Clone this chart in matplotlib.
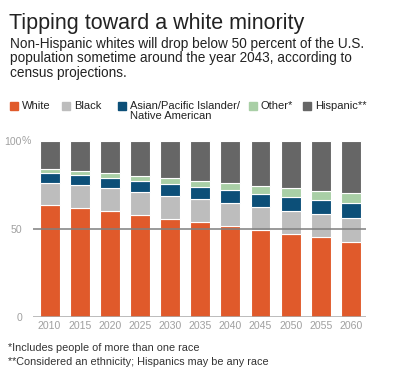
"""Tipping toward a white minority: projected U.S. population shares by
race/ethnicity, 2010-2060, as 100% stacked bars."""
import numpy as np
import matplotlib
matplotlib.use("Agg")
import matplotlib.pyplot as plt

plt.rcParams["font.family"] = ["Liberation Sans", "DejaVu Sans"]

YEARS = ["2010", "2015", "2020", "2025", "2030", "2035",
         "2040", "2045", "2050", "2055", "2060"]
WHITE = [63.8, 62.1, 60.2, 58.0, 55.9, 53.8, 51.7, 49.4, 47.2, 45.3, 42.8]
BLACK = [12.6, 12.9, 12.9, 12.8, 13.0, 13.1, 12.9, 13.3, 13.2, 13.2, 13.6]
ASIAN = [5.2, 5.7, 5.9, 6.5, 6.9, 7.2, 7.4, 7.4, 8.0, 8.0, 8.2]
OTHER = [2.7, 2.4, 2.6, 3.0, 3.0, 3.4, 4.0, 4.5, 4.7, 5.1, 5.7]
HISPANIC = [15.7, 16.9, 18.4, 19.7, 21.2, 22.5, 24.0, 25.4, 26.9, 28.4, 29.7]

SERIES = [("White", WHITE, "#e05a2b"),
          ("Black", BLACK, "#bdbdbd"),
          ("Asian/Pacific Islander/\nNative American", ASIAN, "#0c4f78"),
          ("Other*", OTHER, "#a9cfa6"),
          ("Hispanic**", HISPANIC, "#666666")]

fig = plt.figure(figsize=(4.0, 3.73), dpi=100)
ax = fig.add_axes([0.0825, 0.150, 0.8325, 0.472])

x = np.arange(len(YEARS))
bottom = np.zeros(len(YEARS))
for name, vals, col in SERIES:
    vals = np.array(vals)
    ax.bar(x, vals, 0.66, bottom=bottom, color=col, edgecolor="white", linewidth=0.8)
    bottom += vals

ax.set_xlim(-0.55, len(YEARS) - 0.5)
ax.set_ylim(0, 100)
ax.axhline(50, color="#7f7f7f", lw=1.1, zorder=5)
ax.axhline(0, color="#aaaaaa", lw=1.1, zorder=5)
for s in ax.spines.values():
    s.set_visible(False)
ax.set_xticks(x, YEARS)
ax.set_yticks([0, 50, 100], ["0", "50", "100"])
ax.tick_params(axis="both", length=0, labelsize=7.6, colors="#a0a0a0")
ax.tick_params(axis="x", pad=3)
ax.tick_params(axis="y", pad=8)
ax.annotate("%", xy=(0, 100), xycoords=("axes fraction", "data"),
            xytext=(-8, 0), textcoords="offset points",
            ha="left", va="center", fontsize=7.6, color="#a0a0a0")

fig.text(0.022, 0.937, "Tipping toward a white minority", fontsize=15.5,
         color="#222222", va="center")
fig.text(0.025, 0.902,
         "Non-Hispanic whites will drop below 50 percent of the U.S.\n"
         "population sometime around the year 2043, according to\n"
         "census projections.",
         fontsize=9.8, color="#222222", va="top", linespacing=1.08)

# legend, hand placed to match the single-row layout
leg_x = [0.025, 0.155, 0.295, 0.622, 0.758]
for (name, _, col), lx in zip(SERIES, leg_x):
    fig.patches.append(plt.Rectangle((lx, 0.706), 0.02, 0.021, color=col,
                                     transform=fig.transFigure, figure=fig))
    fig.text(lx + 0.03, 0.729, name, fontsize=8, color="#222222",
             va="top", linespacing=1.0)

fig.text(0.02, 0.068, "*Includes people of more than one race",
         fontsize=7.8, color="#333333", va="center")
fig.text(0.02, 0.030, "**Considered an ethnicity; Hispanics may be any race",
         fontsize=7.8, color="#333333", va="center")

fig.savefig("out.png", dpi=100, facecolor="white")
